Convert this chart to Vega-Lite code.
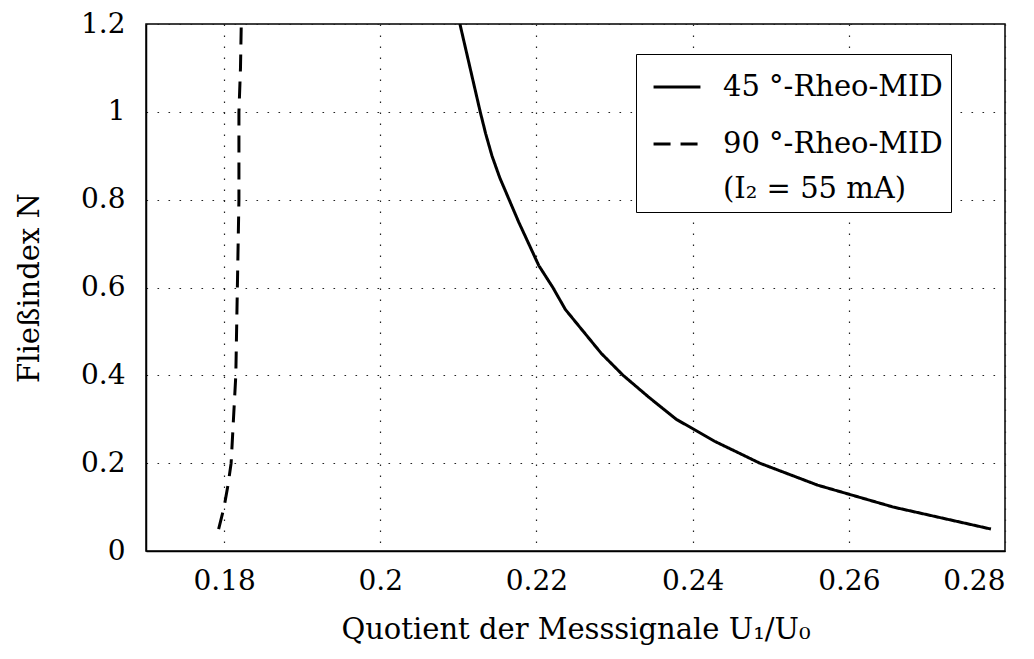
{
  "$schema": "https://vega.github.io/schema/vega-lite/v6.json",
  "autosize": {"type": "none"},
  "padding": {"left": 146, "top": 24, "right": 29, "bottom": 108},
  "width": 859,
  "height": 527,
  "background": "white",
  "config": {
    "font": "DejaVu Serif",
    "view": {"stroke": "#000", "strokeWidth": 1.5},
    "style": {"guide-label": {"lineHeight": 45}},
    "axis": {
      "labelFont": "DejaVu Serif",
      "titleFont": "DejaVu Serif",
      "labelFontSize": 28,
      "titleFontSize": 29,
      "titleFontWeight": "normal",
      "labelColor": "#000",
      "titleColor": "#000",
      "domainColor": "#000",
      "domainWidth": 1.5,
      "ticks": false,
      "grid": true,
      "gridColor": "#222",
      "gridDash": [1.6, 9.4],
      "gridWidth": 1.2,
      "gridOpacity": 1
    },
    "legend": {
      "labelFont": "DejaVu Serif",
      "labelFontSize": 29,
      "labelColor": "#000",
      "labelLimit": 0
    }
  },
  "data": {
    "values": [
      {"s": "45", "q": 0.2782, "N": 0.05},
      {"s": "45", "q": 0.2657, "N": 0.10},
      {"s": "45", "q": 0.2560, "N": 0.15},
      {"s": "45", "q": 0.2486, "N": 0.20},
      {"s": "45", "q": 0.2428, "N": 0.25},
      {"s": "45", "q": 0.2379, "N": 0.30},
      {"s": "45", "q": 0.2344, "N": 0.35},
      {"s": "45", "q": 0.2311, "N": 0.40},
      {"s": "45", "q": 0.2283, "N": 0.45},
      {"s": "45", "q": 0.2260, "N": 0.50},
      {"s": "45", "q": 0.2237, "N": 0.55},
      {"s": "45", "q": 0.2221, "N": 0.60},
      {"s": "45", "q": 0.2203, "N": 0.65},
      {"s": "45", "q": 0.2190, "N": 0.70},
      {"s": "45", "q": 0.2177, "N": 0.75},
      {"s": "45", "q": 0.2165, "N": 0.80},
      {"s": "45", "q": 0.2153, "N": 0.85},
      {"s": "45", "q": 0.2143, "N": 0.90},
      {"s": "45", "q": 0.2135, "N": 0.95},
      {"s": "45", "q": 0.2128, "N": 1.00},
      {"s": "45", "q": 0.2115, "N": 1.10},
      {"s": "45", "q": 0.2102, "N": 1.20},
      {"s": "90", "q": 0.1793, "N": 0.05},
      {"s": "90", "q": 0.1800, "N": 0.10},
      {"s": "90", "q": 0.1805, "N": 0.15},
      {"s": "90", "q": 0.1809, "N": 0.20},
      {"s": "90", "q": 0.1812, "N": 0.30},
      {"s": "90", "q": 0.1815, "N": 0.40},
      {"s": "90", "q": 0.1817, "N": 0.60},
      {"s": "90", "q": 0.1819, "N": 0.80},
      {"s": "90", "q": 0.1819, "N": 1.00},
      {"s": "90", "q": 0.1821, "N": 1.10},
      {"s": "90", "q": 0.1822, "N": 1.20}
    ]
  },
  "mark": {"type": "line", "color": "#000", "strokeWidth": 3, "clip": true},
  "encoding": {
    "x": {
      "field": "q",
      "type": "quantitative",
      "scale": {"domain": [0.17, 0.28], "nice": false, "zero": false},
      "axis": {
        "values": [0.18, 0.2, 0.22, 0.24, 0.26, 0.28],
        "format": "~g",
        "title": "Quotient der Messsignale U₁/U₀",
        "labelPadding": 16,
        "titlePadding": 20
      }
    },
    "y": {
      "field": "N",
      "type": "quantitative",
      "scale": {"domain": [0, 1.2], "nice": false},
      "axis": {
        "values": [0, 0.2, 0.4, 0.6, 0.8, 1, 1.2],
        "format": "~g",
        "title": "Fließindex N",
        "labelPadding": 21,
        "titlePadding": 36
      }
    },
    "order": {"field": "N", "type": "quantitative"},
    "strokeDash": {
      "field": "s",
      "type": "nominal",
      "scale": {"domain": ["45", "90"], "range": [[1, 0], [17, 10]]},
      "legend": {
        "title": null,
        "orient": "none",
        "legendX": 490,
        "legendY": 30,
        "strokeColor": "#000",
        "fillColor": "white",
        "padding": 8,
        "symbolOffset": 8,
        "symbolType": "stroke",
        "symbolSize": 2200,
        "symbolStrokeWidth": 3,
        "symbolStrokeColor": "#000",
        "rowPadding": 17,
        "labelOffset": 21,
        "labelBaseline": "middle",
        "labelExpr": "datum.label == '45' ? '45 °-Rheo-MID\u2002' : ['90 °-Rheo-MID', '\u2002(I₂ = 55 mA)']"
      }
    }
  }
}
